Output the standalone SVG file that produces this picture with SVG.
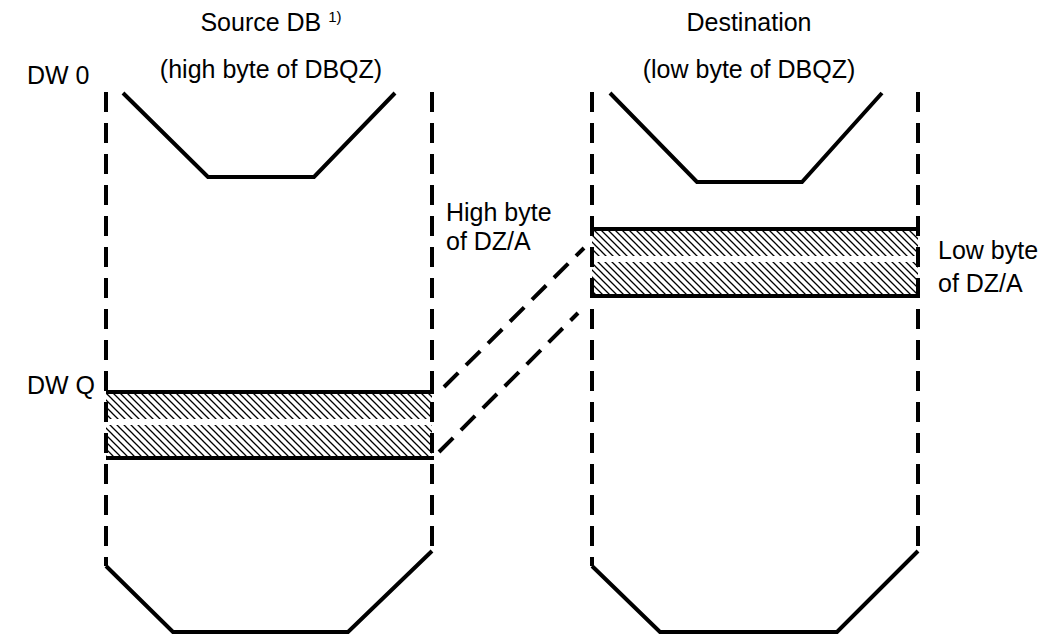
<svg xmlns="http://www.w3.org/2000/svg" width="1043" height="634" viewBox="0 0 1043 634">
<style>
.t{font-family:"Liberation Sans",Arial,sans-serif;font-size:25px;fill:#000}
.sup{font-size:15px}
.solid{fill:none;stroke:#000;stroke-width:4;stroke-linejoin:miter}
.dash{fill:none;stroke:#000;stroke-width:4;stroke-dasharray:20 11}
.hatch{fill:url(#h);stroke:none}
</style>
<defs>
<pattern id="h" patternUnits="userSpaceOnUse" width="7" height="7">
<path d="M-1,-1 L8,8 M-8,-1 L1,8 M6,-1 L15,8" stroke="#000" stroke-width="1.3"/>
</pattern>
</defs>
<rect width="1043" height="634" fill="#fff"/>
<g id="source">
<rect class="hatch" x="106" y="394" width="326" height="25"/>
<rect class="hatch" x="106" y="425" width="326" height="31"/>
<line class="dash" x1="106" y1="92" x2="106" y2="566"/>
<line class="dash" x1="432" y1="92" x2="432" y2="551"/>
<polyline class="solid" points="123,93 208,177 314,177 395,93"/>
<polyline class="solid" points="106,566 173,632 348,632 432,551"/>
<line class="solid" x1="106" y1="392" x2="434" y2="392"/>
<line class="solid" x1="106" y1="458" x2="434" y2="458"/>
<text class="t" x="271" y="31" text-anchor="middle">Source DB <tspan class="sup" dy="-9">1)</tspan></text>
<text class="t" x="271" y="78" text-anchor="middle">(high byte of DBQZ)</text>
<text class="t" x="27" y="84">DW 0</text>
<text class="t" x="27" y="394">DW Q</text>
</g>
<g id="destination">
<rect class="hatch" x="592" y="231" width="326" height="25"/>
<rect class="hatch" x="592" y="262" width="326" height="32"/>
<line class="dash" x1="592" y1="92" x2="592" y2="566"/>
<line class="dash" x1="918" y1="92" x2="918" y2="551"/>
<polyline class="solid" points="610,93 697,182 802,182 882,93"/>
<polyline class="solid" points="592,566 660,632 837,632 918,551"/>
<line class="solid" x1="590" y1="229" x2="920" y2="229"/>
<line class="solid" x1="590" y1="296" x2="920" y2="296"/>
<text class="t" x="749" y="31" text-anchor="middle">Destination</text>
<text class="t" x="749" y="78" text-anchor="middle">(low byte of DBQZ)</text>
</g>
<g id="labels">
<text class="t" x="446" y="221">High byte</text>
<text class="t" x="446" y="250">of DZ/A</text>
<text class="t" x="938" y="259">Low byte</text>
<text class="t" x="938" y="292">of DZ/A</text>
</g>
<g id="connectors">
<line class="dash" x1="444" y1="387" x2="584" y2="248"/>
<line class="dash" x1="439" y1="452" x2="578" y2="313"/>
</g>
</svg>
